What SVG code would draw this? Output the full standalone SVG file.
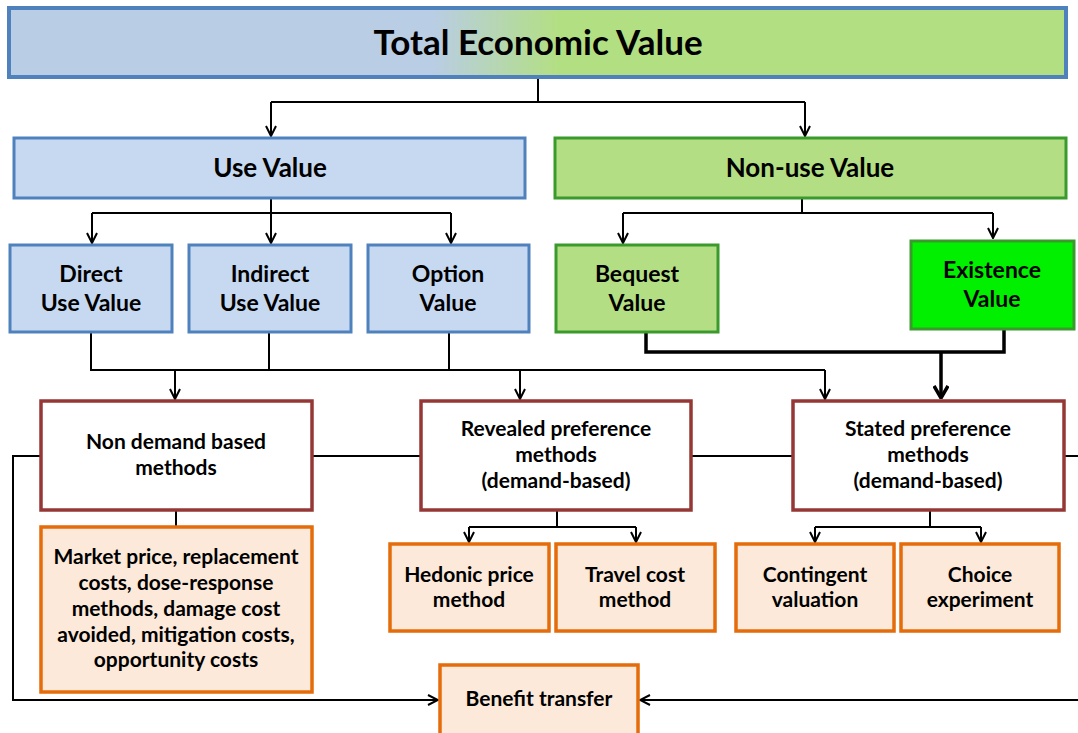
<svg xmlns="http://www.w3.org/2000/svg" width="1078" height="733" viewBox="0 0 1078 733">
<style>
text{font-family:Lato,"Liberation Sans",sans-serif;font-weight:bold;fill:#000;text-anchor:middle}
.t1{font-size:35px}
.t2{font-size:26px}
.t3{font-size:23px}
.t4{font-size:21px}
.blue{fill:#c6d9f1;stroke:#4f81bd;stroke-width:3}
.green{fill:#b3de83;stroke:#3a9a2c;stroke-width:3}
.lime{fill:#00f000;stroke:#3a9a2c;stroke-width:3}
.meth{fill:#fff;stroke:#953735;stroke-width:3.5}
.orng{fill:#fde9d9;stroke:#e46c0a;stroke-width:3.5}
.ln{fill:none;stroke:#000;stroke-width:2}
.thick{fill:none;stroke:#000;stroke-width:3.5}
</style>
<defs>
<linearGradient id="g" x1="0" y1="0" x2="1" y2="0">
<stop offset="0.4" stop-color="#b9cde5"/>
<stop offset="0.52" stop-color="#b3df83"/>
</linearGradient>
<marker id="a" viewBox="-1 -6 12 12" refX="10" refY="0" markerWidth="12" markerHeight="12" markerUnits="userSpaceOnUse" orient="auto">
<path d="M0,-5 L10,0 L0,5" fill="none" stroke="#000" stroke-width="2"/>
</marker>
<marker id="b" viewBox="-1 -8 14 16" refX="12" refY="0" markerWidth="14" markerHeight="16" markerUnits="userSpaceOnUse" orient="auto">
<path d="M0,-7 L12,0 L0,7" fill="none" stroke="#000" stroke-width="3.5"/>
</marker>
</defs>
<g id="connectors">
<path class="ln" d="M538,79 V102 M271,102 H805"/>
<path class="ln" d="M271,102 V136" marker-end="url(#a)"/>
<path class="ln" d="M805,102 V136" marker-end="url(#a)"/>
<path class="ln" d="M271,198 V213 M92,213 H451"/>
<path class="ln" d="M92,213 V243" marker-end="url(#a)"/>
<path class="ln" d="M271,213 V243" marker-end="url(#a)"/>
<path class="ln" d="M451,213 V243" marker-end="url(#a)"/>
<path class="ln" d="M802,198 V213 M623,213 H993"/>
<path class="ln" d="M623,213 V243" marker-end="url(#a)"/>
<path class="ln" d="M993,213 V238" marker-end="url(#a)"/>
<path class="thick" d="M646,332 V352 H1004 V329"/>
<path class="thick" d="M941,352 V398" marker-end="url(#b)"/>
<path class="ln" d="M91,332 V370 H825 M269,332 V370 M449,332 V370"/>
<path class="ln" d="M175,370 V399" marker-end="url(#a)"/>
<path class="ln" d="M520,370 V399" marker-end="url(#a)"/>
<path class="ln" d="M825,370 V399" marker-end="url(#a)"/>
<path class="ln" d="M312,456 H421 M691,456 H793 M1064,456 H1080"/>
<path class="ln" d="M41,456 H13 V700 H438" marker-end="url(#a)"/>
<path class="ln" d="M1080,700 H640" marker-end="url(#a)"/>
<path class="ln" d="M176,510 V527"/>
<path class="ln" d="M557,510 V527 M469,527 H636"/>
<path class="ln" d="M469,527 V542" marker-end="url(#a)"/>
<path class="ln" d="M636,527 V542" marker-end="url(#a)"/>
<path class="ln" d="M930,510 V527 M815,527 H981"/>
<path class="ln" d="M815,527 V542" marker-end="url(#a)"/>
<path class="ln" d="M981,527 V542" marker-end="url(#a)"/>
</g>
<g id="total">
<rect x="9" y="8" width="1057" height="69" fill="url(#g)" stroke="#4f81bd" stroke-width="4"/>
<text class="t1" x="538" y="55">Total Economic Value</text>
</g>
<g id="use">
<rect class="blue" x="14" y="138" width="511" height="60"/>
<text class="t2" x="270" y="177">Use Value</text>
</g>
<g id="nonuse">
<rect class="green" x="555" y="138" width="511" height="60"/>
<text class="t2" x="810" y="177">Non-use Value</text>
</g>
<g id="direct">
<rect class="blue" x="10" y="245" width="162" height="87"/>
<text class="t3" x="91" y="282">Direct</text>
<text class="t3" x="91" y="311">Use Value</text>
</g>
<g id="indirect">
<rect class="blue" x="189" y="245" width="162" height="87"/>
<text class="t3" x="270" y="282">Indirect</text>
<text class="t3" x="270" y="311">Use Value</text>
</g>
<g id="option">
<rect class="blue" x="368" y="245" width="161" height="87"/>
<text class="t3" x="448" y="282">Option</text>
<text class="t3" x="448" y="311">Value</text>
</g>
<g id="bequest">
<rect class="green" x="556" y="245" width="162" height="87"/>
<text class="t3" x="637" y="282">Bequest</text>
<text class="t3" x="637" y="311">Value</text>
</g>
<g id="existence">
<rect class="lime" x="911" y="241" width="163" height="88"/>
<text class="t3" x="992" y="278">Existence</text>
<text class="t3" x="992" y="307">Value</text>
</g>
<g id="nondemand">
<rect class="meth" x="41" y="401" width="271" height="109"/>
<text class="t4" x="176" y="449">Non demand based</text>
<text class="t4" x="176" y="475">methods</text>
</g>
<g id="revealed">
<rect class="meth" x="421" y="401" width="270" height="109"/>
<text class="t4" x="556" y="436">Revealed preference</text>
<text class="t4" x="556" y="462">methods</text>
<text class="t4" x="556" y="488">(demand-based)</text>
</g>
<g id="stated">
<rect class="meth" x="793" y="401" width="271" height="109"/>
<text class="t4" x="928" y="436">Stated preference</text>
<text class="t4" x="928" y="462">methods</text>
<text class="t4" x="928" y="488">(demand-based)</text>
</g>
<g id="market">
<rect class="orng" x="41" y="527" width="271" height="165"/>
<text class="t4" x="176" y="564">Market price, replacement</text>
<text class="t4" x="176" y="590">costs, dose-response</text>
<text class="t4" x="176" y="616">methods, damage cost</text>
<text class="t4" x="176" y="642">avoided, mitigation costs,</text>
<text class="t4" x="176" y="667">opportunity costs</text>
</g>
<g id="hedonic">
<rect class="orng" x="390" y="544" width="159" height="87"/>
<text class="t4" x="469" y="582">Hedonic price</text>
<text class="t4" x="469" y="607">method</text>
</g>
<g id="travel">
<rect class="orng" x="556" y="544" width="159" height="87"/>
<text class="t4" x="635" y="582">Travel cost</text>
<text class="t4" x="635" y="607">method</text>
</g>
<g id="contingent">
<rect class="orng" x="736" y="544" width="158" height="87"/>
<text class="t4" x="815" y="582">Contingent</text>
<text class="t4" x="815" y="607">valuation</text>
</g>
<g id="choice">
<rect class="orng" x="901" y="544" width="158" height="87"/>
<text class="t4" x="980" y="582">Choice</text>
<text class="t4" x="980" y="607">experiment</text>
</g>
<g id="benefit">
<rect class="orng" x="440" y="665" width="198" height="80"/>
<text class="t4" x="539" y="706">Benefit transfer</text>
</g>
</svg>
